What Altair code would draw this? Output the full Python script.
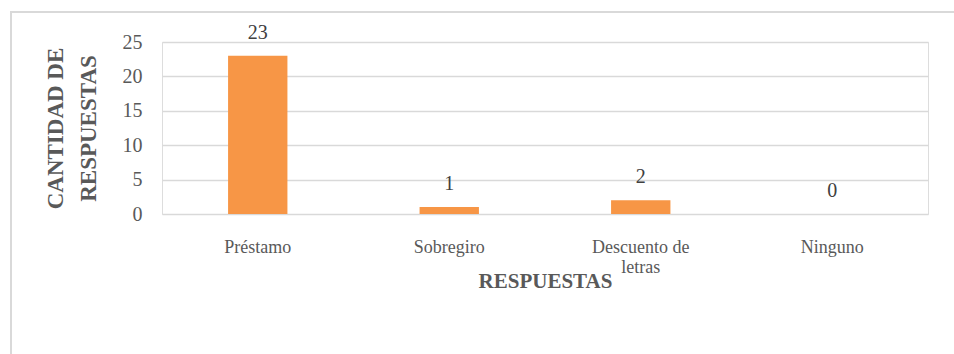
import altair as alt
import pandas as pd

categories = ["Préstamo", "Sobregiro", "Descuento de letras", "Ninguno"]
values = [23, 1, 2, 0]
y_ticks = [0, 5, 10, 15, 20, 25]

df = pd.DataFrame({"cat": categories, "val": values})

FONT = "Liberation Serif"
GRAY = "#595959"

x_enc = alt.X(
    "cat:N",
    sort=categories,
    scale=alt.Scale(paddingInner=0.69, paddingOuter=0.345),
    axis=alt.Axis(
        title="RESPUESTAS",
        titleFont=FONT, titleFontSize=21, titleFontWeight="bold", titleColor=GRAY,
        titlePadding=-6,
        labelFont=FONT, labelFontSize=18, labelColor=GRAY, labelAngle=0,
        labelPadding=24, labelLineHeight=20,
        labelExpr="datum.value == 'Descuento de letras' ? ['Descuento de', 'letras'] : datum.value",
        ticks=False, domain=False, grid=False,
    ),
)

y_enc = alt.Y(
    "val:Q",
    scale=alt.Scale(domain=[0, 25], nice=False),
    axis=alt.Axis(
        title=["CANTIDAD DE", "RESPUESTAS"],
        titleFont=FONT, titleFontSize=23, titleFontWeight="bold", titleColor=GRAY,
        titleLineHeight=33, titlePadding=22,
        labelFont=FONT, labelFontSize=20, labelColor=GRAY, labelPadding=20,
        values=y_ticks, ticks=False, domain=False,
        grid=True, gridColor="#d9d9d9", gridWidth=1.5,
    ),
)

base = alt.Chart(df)

frame = base.mark_rect(fill=None, stroke="#d9d9d9", strokeWidth=2, clip=False).encode(
    x=alt.value(-151), x2=alt.value(800), y=alt.value(-30), y2=alt.value(330)
)

bars = base.mark_bar(color="#F79646").encode(x=x_enc, y=y_enc)

labels = base.mark_text(
    font=FONT, fontSize=20, color="#404040", baseline="bottom", dy=-13
).encode(x=x_enc, y=y_enc, text="val:Q")

chart = alt.layer(frame, bars, labels).properties(
    width=766, height=172,
    autosize=alt.AutoSizeParams(type="none"),
    padding={"left": 162, "top": 42, "right": 26, "bottom": 140},
).configure_view(strokeOpacity=0).configure(background="white")

chart.save("out.html", embed_options={"renderer": "svg", "actions": False})
